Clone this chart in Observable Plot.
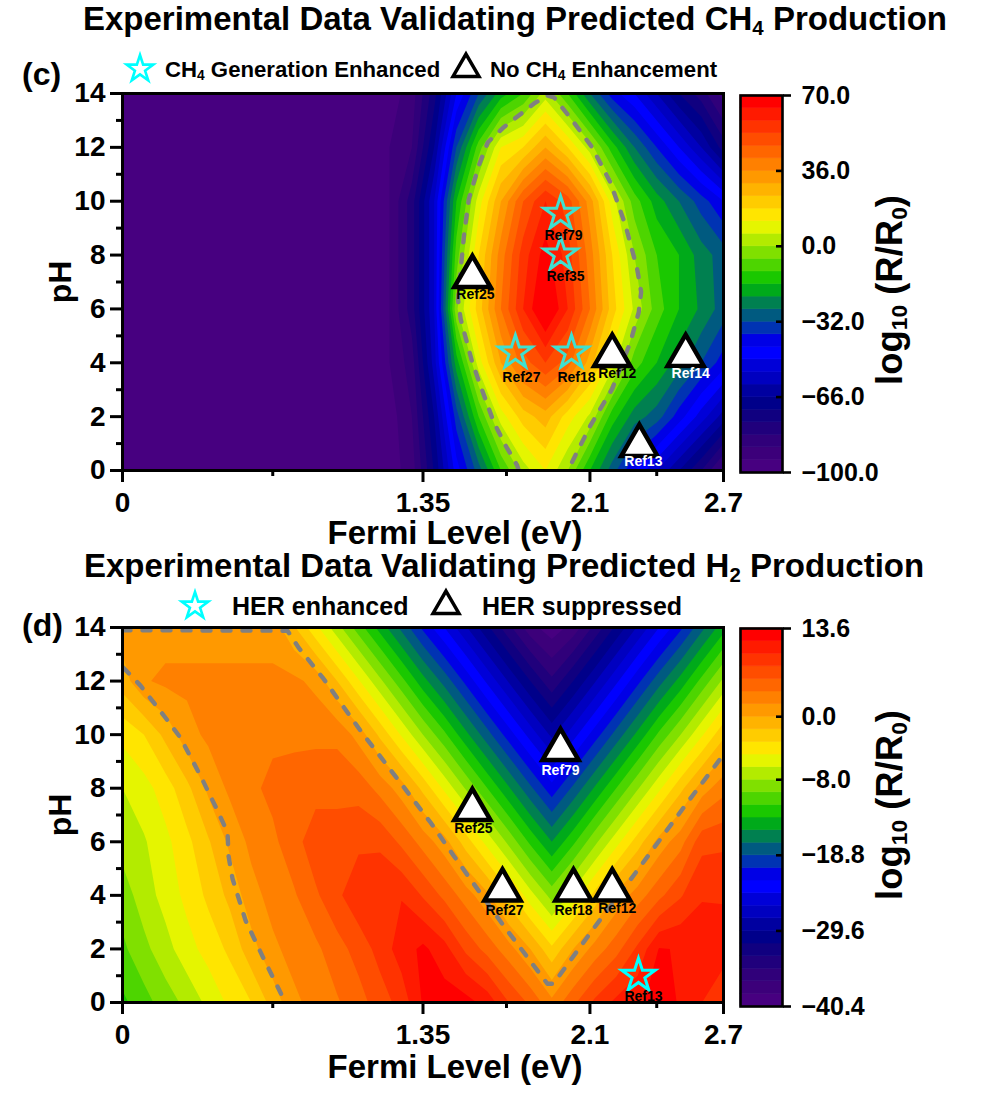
<!DOCTYPE html>
<html><head><meta charset="utf-8">
<script src="https://cdn.jsdelivr.net/npm/d3@7"></script>
<script src="https://cdn.jsdelivr.net/npm/@observablehq/plot@0.6"></script>
<style>
html,body{margin:0;padding:0;background:#fff}
#page{position:relative;width:990px;height:1100px;overflow:hidden;font-family:"Liberation Sans",Arial,sans-serif;color:#000}
#page svg.plot,#page>svg{position:absolute;background:transparent}
.t{position:absolute;white-space:nowrap;font-weight:bold;line-height:1}
.t sub{font-size:.62em;line-height:0;vertical-align:-.25em}
</style></head><body><div id="page"></div>
<script>
// Colour bands, bottom to top
const bandColors=["#470080","#3c007a","#30007a","#20007c","#100080","#00008a","#0000a0","#0000c0","#0000d8","#0000ff","#0000e6","#0033b3","#005a80","#008050","#00aa1a","#1ac800","#4dd500","#80e000","#b3eb00","#e5f500","#ffe500","#ffcc00","#ffb300","#ff9900","#ff8000","#ff6600","#ff4d00","#ff3300","#ff1a00","#ff0000"];
const pHMajor=[0,2,4,6,8,10,12,14];
const pHMinor=[1,3,5,7,9,11,13];
const fermiMajor=[0,1.35,2.1,2.7];
const fermiMinor=[0.675,1.725,2.4];

// Panel (c): log10(R/R0) for CH4, x = 0, 0.1 ... 2.7 eV
const ch4Row14=[-100,-100,-100,-100,-100,-100,-100,-100,-100,-100,-100,-100,-97.2,-91.5,-74,-49,-32,-17.8,-9.3,4.8,-9.3,-26.3,-40.5,-49,-60.3,-71.7,-80.2,-91.5];
const ch4Row12=[-100,-100,-100,-100,-100,-100,-100,-100,-100,-100,-100,-100,-94.3,-88.7,-66,-32,-6.5,13.3,19,30.3,19,4.8,-12.2,-26.3,-37.7,-49,-60.3,-74.5];
const ch4Row10=[-100,-100,-100,-100,-100,-100,-100,-100,-100,-100,-100,-100,-94.3,-80,-54.7,-15,10.5,30.3,47.3,58.7,50.2,33.2,10.5,-6.5,-17.8,-26.3,-34.8,-43.3];
const ch4Row8=[-100,-100,-100,-100,-100,-100,-100,-100,-100,-100,-100,-100,-94.3,-80,-54.7,-6.5,19,38.8,55.8,67.2,55.8,38.8,19,2,-9.3,-15,-23.5,-29.2];
const ch4Row6=[-100,-100,-100,-100,-100,-100,-100,-100,-100,-100,-100,-100,-94.3,-80,-54.7,0.9,21.8,41.7,58.7,72.8,58.7,41.7,21.8,6.5,-6.5,-15,-21.8,-29.2];
const ch4Row4=[-100,-100,-100,-100,-100,-100,-100,-100,-100,-100,-100,-100,-94.3,-85.8,-57.5,-17.8,10.5,30.3,44.5,53,44.5,27.5,10.5,-6.5,-15,-23.5,-32,-40.5];
const ch4Row2=[-100,-100,-100,-100,-100,-100,-100,-100,-100,-100,-100,-100,-97.2,-88.7,-66,-34.8,-9.3,10.5,21.8,27.5,16.2,6.5,-12.2,-23.5,-29.2,-40.5,-51.8,-63];
const ch4Row0=[-100,-100,-100,-100,-100,-100,-100,-100,-100,-100,-100,-100,-97.2,-91.5,-71,-46.2,-29.2,-9.3,4.8,13.3,2,-15,-29.2,-43.3,-54.7,-66,-77.3,-91.5];

// Panel (d): log10(R/R0) for H2, 29 columns across 0 ... 2.7 eV
const h2Row14=[1.9,2,2,2,2,2,2,2,-0.6,-3.9,-7.3,-10.7,-14.1,-17.5,-21,-24.2,-27.6,-31,-34.5,-37.9,-39.7,-37.9,-34.5,-31,-27.6,-24.2,-21,-17.5,-14.1];
const h2Row12=[0.1,2.6,3.2,3.2,3.2,3.2,3.2,3.2,3.2,2.3,-0.8,-4.2,-7.6,-11,-14.5,-17.7,-21.1,-24.6,-28,-31.4,-34.6,-31.4,-28,-24.6,-21.1,-17.7,-14.5,-11,-7.6];
const h2Row10=[-3.9,-2.6,-0.3,2.1,3.2,3.5,3.9,4.2,4.2,4.2,4.2,2.1,-1.2,-4.6,-8,-11.2,-14.7,-18.1,-21.5,-24.9,-28.2,-24.9,-21.5,-18.1,-14.7,-11.2,-8,-4.6,-1.2];
const h2Row8=[-6.2,-5.1,-3.5,-1.3,1.4,3.2,4.2,5.1,5.4,5.7,5.7,5.7,4,1.9,-1.3,-4.8,-8.2,-11.6,-15,-18.4,-21.7,-18.4,-15,-11.6,-8.2,-4.8,-1.3,1.9,4];
const h2Row6=[-7.3,-6.4,-4.9,-3.1,-1,1.4,3.3,4.2,5.7,7.5,7.5,7.8,7.8,6,3.9,1.7,-1.7,-5.1,-8.5,-12,-15.2,-12,-8.5,-5.1,-1.7,1.7,3.9,7.6,7.8];
const h2Row4=[-8.9,-7.1,-5.5,-3.9,-2.2,-0.3,2.1,3.5,4.4,6.1,7.8,9.5,9.8,9.9,8,5.9,3.7,1.4,-2,-5.5,-8.7,-5.5,-2,1.4,3.7,5.9,8,9.9,9.9];
const h2Row2=[-10.2,-8.5,-6.9,-5.1,-3.7,-2.2,0.3,2.4,3.5,4.2,5.7,7.1,8.9,10.9,12.2,10.7,7.8,5.7,3.5,1,-2.2,1,3.5,5.7,8.6,11.9,11.7,10.7,10.5];
const h2Row0=[-12,-10.5,-8.9,-7.5,-5.7,-4,-2.6,-0.1,2.4,3.5,4.4,5.7,7.3,8.9,12,12.7,12.5,11.1,8.2,6,3.3,6,8.6,10.5,11.4,12.7,11.6,10,9.1];

// Dashed guide lines (Fermi level, pH)
const ch4DashX=[1.78,1.773,1.721,1.668,1.608,1.571,1.519,1.507,1.534,1.556,1.601,1.641,1.713,1.848,1.908,1.938,2.012,2.11,2.192,2.26,2.312,2.33,2.319,2.282,2.2,2.102,2.012,2.0];
const ch4DashPH=[0,0.19,0.93,1.79,3.16,4.02,5.63,6.37,8.73,10.09,11.33,12.19,12.75,13.62,13.93,13.86,13.1,12,10.7,9.1,7.49,6.63,5.87,4.77,3.03,1.67,0.19,0];
const h2DashLeftX=[0.004,0.081,0.193,0.26,0.35,0.431,0.472,0.476,0.494,0.553,0.634,0.678,0.732];
const h2DashLeftPH=[12.5,11.83,10.63,9.89,8.47,7.09,6.34,5.49,4.63,3.06,1.64,0.9,0];
const h2DashVX=[0,0.741,0.791,0.903,1.069,1.258,1.384,1.487,1.712,1.909,1.936,2.116,2.296,2.52,2.695];
const h2DashVPH=[13.9,13.88,13.25,12.09,10.15,8.1,6.72,5.49,2.87,0.7,0.7,2.76,4.74,7.27,9.2];

// Experimental references
const ch4Refs=["Ref79","Ref35","Ref27","Ref18","Ref25","Ref12","Ref14","Ref13"];
const ch4RefX=[1.968,1.968,1.765,2.017,1.572,2.2,2.53,2.322];
const ch4RefPH=[9.54,8.02,4.38,4.38,7.2,4.27,4.27,0.93];
const ch4RefKind=["star","star","star","star","triangle","triangle","triangle","triangle"];
const ch4RefInk=["#000","#000","#000","#000","#000","#000","#fff","#fff"];
const ch4RefShift=[[3,22],[5,22],[6,25],[5,25],[3,18],[5,18],[5,18],[4,16]];
const h2Refs=["Ref79","Ref25","Ref27","Ref18","Ref12","Ref13"];
const h2RefX=[1.968,1.572,1.707,2.026,2.2,2.318];
const h2RefPH=[9.44,7.2,4.2,4.2,4.2,1];
const h2RefKind=["triangle","triangle","triangle","triangle","triangle","star"];
const h2RefInk=["#fff","#000","#000","#000","#000","#000"];
const h2RefShift=[[0,21],[1,19],[2,21],[0,21],[5,19],[5,21]];

const page=document.getElementById("page");
const FONT='"Liberation Sans",Arial,sans-serif';
function txt(html,x,y,size,anchor="left"){
  const d=document.createElement("div");d.className="t";d.innerHTML=html;
  const tx=anchor==="center"?"-50%":"0";
  d.style.cssText=`left:${x}px;top:${y}px;font-size:${size}px;transform:translate(${tx},-50%)`;
  page.appendChild(d);
}
function glyph(kind,x,y,size,stroke,sw){
  const s=d3.create("svg").attr("width",50).attr("height",50).style("left",(x-25)+"px").style("top",(y-25)+"px").style("z-index",3);
  s.append("path").attr("transform","translate(25,25)").attr("d",d3.symbol(kind,size)()).attr("fill","none").attr("stroke",stroke).attr("stroke-width",sw).attr("stroke-linejoin","miter");
  page.appendChild(s.node());
}
function panel(o){
  const levels=d3.range(31).map(i=>o.lo+i*(o.hi-o.lo)/30);
  const thresholds=levels.slice(0,30);
  const color={type:"threshold",domain:thresholds.slice(1),range:bandColors};
  const grid=o.rows.flat();
  const cols=o.rows[0].length;
  const dx=2.7/(cols-1);
  const pts=o.refs.map((r,i)=>({r,x:o.refX[i],y:o.refPH[i],kind:o.refKind[i],ink:o.refInk[i],sh:o.refShift[i]}));
  const dash=(X,Y)=>Plot.line(X.map((x,i)=>[x,Y[i]]),{x:"0",y:"1",stroke:"#808080",strokeWidth:4.4,strokeDasharray:"8 12",clip:true});
  const main=Plot.plot({
    width:760,height:o.h+o.top+60,marginLeft:122,marginRight:37,marginTop:o.top,marginBottom:60,
    style:{background:"transparent",fontFamily:FONT,fontWeight:"bold",color:"#000"},
    x:{domain:[0,2.7]},y:{domain:[0,14]},color,
    marks:[
      Plot.frame({fill:bandColors[0],stroke:"none"}),
      Plot.contour(grid,{width:cols,height:o.rows.length,x1:-dx/2,x2:2.7+dx/2,y1:15,y2:-1,value:d=>d,thresholds,fill:"value",clip:true}),
      ...o.dashes.map(a=>dash(a[0],a[1])),
      Plot.dot(pts.filter(d=>d.kind==="star"),{x:"x",y:"y",symbol:"star",r:10.5,stroke:o.starColor,strokeWidth:3,fill:"none"}),
      Plot.dot(pts.filter(d=>d.kind==="triangle"),{x:"x",y:"y",symbol:"triangle",r:13.4,stroke:"#000",strokeWidth:4.5,fill:"#fff",strokeLinejoin:"miter"}),
      ...pts.map(d=>Plot.text([d],{x:"x",y:"y",text:"r",dx:d.sh[0],dy:d.sh[1],fill:d.ink,fontSize:14,fontWeight:"bold"})),
      Plot.frame({stroke:"#000",strokeWidth:3}),
      Plot.axisX({ticks:fermiMajor,tickSize:12,tickPadding:10,strokeWidth:3,fontSize:28,tickFormat:d=>String(d),label:null}),
      Plot.axisX({ticks:fermiMinor,tickSize:6,strokeWidth:3,tickFormat:()=>"",label:null}),
      Plot.axisY({ticks:pHMajor,tickSize:12,tickPadding:5,strokeWidth:3,fontSize:28,label:null}),
      Plot.axisY({ticks:pHMinor,tickSize:6,strokeWidth:3,tickFormat:()=>"",label:null}),
      Plot.axisY({ticks:[],label:"pH",labelAnchor:"center",labelArrow:"none",labelOffset:74,fontSize:32,tickSize:0})
    ]});
  main.style.cssText+=`;position:absolute;left:0;top:${o.y}px`;
  page.appendChild(main);
  const bands=thresholds.map((t,i)=>({lo:t,hi:levels[i+1]}));
  const bar=Plot.plot({
    width:900,height:o.barH+o.top+40,marginLeft:740,marginRight:118,marginTop:o.top,marginBottom:40,
    style:{background:"transparent",fontFamily:FONT,fontWeight:"bold",color:"#000"},
    x:{domain:[0,1],axis:null},y:{domain:[o.lo,o.hi],axis:null},color,
    marks:[
      Plot.rectY(bands,{y1:"lo",y2:"hi",fill:"lo",stroke:"lo",strokeWidth:0.6}),
      Plot.frame({stroke:"#000",strokeWidth:2.6}),
      Plot.axisY({anchor:"right",ticks:[o.lo,o.hi],tickSize:8,strokeWidth:2.6,tickFormat:()=>"",label:null}),
      Plot.axisY({anchor:"right",ticks:o.barTicks.slice(1,-1),tickSize:-7,strokeWidth:2.6,tickFormat:()=>"",label:null}),
      Plot.axisY({anchor:"right",ticks:o.barTicks,tickSize:0,tickPadding:19,fontSize:25,tickFormat:(d,i)=>o.barLabels[i],label:null})
    ]});
  bar.style.cssText+=`;position:absolute;left:0;top:${o.barY}px`;
  page.appendChild(bar);
}
panel({y:0,top:93,h:377,barY:2,barH:377,lo:-100,hi:70,
  rows:[ch4Row14,ch4Row12,ch4Row10,ch4Row8,ch4Row6,ch4Row4,ch4Row2,ch4Row0],
  dashes:[[ch4DashX,ch4DashPH]],starColor:"#3fe0d0",
  refs:ch4Refs,refX:ch4RefX,refPH:ch4RefPH,refKind:ch4RefKind,refInk:ch4RefInk,refShift:ch4RefShift,
  barTicks:[70,36,2,-32,-66,-100],barLabels:["70.0","36.0","0.0","−32.0","−66.0","−100.0"]});
panel({y:534,top:93,h:375,barY:535,barH:378,lo:-40.4,hi:13.6,
  rows:[h2Row14,h2Row12,h2Row10,h2Row8,h2Row6,h2Row4,h2Row2,h2Row0],
  dashes:[[h2DashLeftX,h2DashLeftPH],[h2DashVX,h2DashVPH]],starColor:"#00ffff",
  refs:h2Refs,refX:h2RefX,refPH:h2RefPH,refKind:h2RefKind,refInk:h2RefInk,refShift:h2RefShift,
  barTicks:[13.6,1,-8,-18.8,-29.6,-40.4],barLabels:["13.6","0.0","−8.0","−18.8","−29.6","−40.4"]});

txt("Experimental Data Validating Predicted CH<sub>4</sub> Production",515,18,33,"center");
txt("Experimental Data Validating Predicted H<sub>2</sub> Production",504,565,33,"center");
txt("(c)",22,74,32);
txt("(d)",22,625,32);
txt("Fermi Level (eV)",455,532,33,"center");
txt("Fermi Level (eV)",455,1066,33,"center");
glyph(d3.symbolStar,140,69,220,"#00ffff",2.6);
txt("CH<sub>4</sub> Generation Enhanced",165,70,22.2);
glyph(d3.symbolTriangle,466,69,292,"#000",3.5);
txt("No CH<sub>4</sub> Enhancement",490,70,22.2);
glyph(d3.symbolStar,195,606,220,"#00ffff",2.6);
txt("HER enhanced",232,606,25);
glyph(d3.symbolTriangle,446,606,292,"#000",3.5);
txt("HER suppressed",482,606,25);
function rot(html,x,y,size){const d=document.createElement("div");d.className="t";d.innerHTML=html;d.style.cssText=`left:${x}px;top:${y}px;font-size:${size}px;transform:translate(-50%,-50%) rotate(-90deg)`;page.appendChild(d);}
rot("log<sub>10</sub> (R/R<sub>0</sub>)",890,290,36.5);
rot("log<sub>10</sub> (R/R<sub>0</sub>)",890,805,36.5);
</script></body></html>
